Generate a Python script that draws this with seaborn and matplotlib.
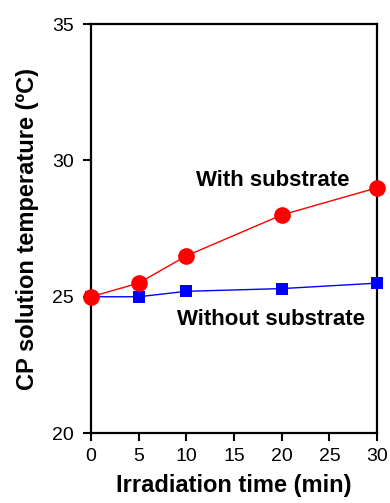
import matplotlib
matplotlib.use("Agg")
import matplotlib.pyplot as plt
import pandas as pd
import seaborn as sns

# Irradiation time (min) and CP solution temperature (deg C)
time_min = [0, 5, 10, 20, 30]
temp_with = [25.0, 25.5, 26.5, 28.0, 29.0]
temp_without = [25.0, 25.0, 25.2, 25.3, 25.5]

sns.set_style("ticks")
plt.rcParams["font.family"] = ["Liberation Sans", "DejaVu Sans"]
plt.rcParams["text.color"] = "black"
plt.rcParams["axes.labelcolor"] = "black"

df = pd.DataFrame({"time": time_min, "with": temp_with, "without": temp_without})

fig = plt.figure(figsize=(3.9, 5.03), dpi=100)
ax = fig.add_axes([0.233, 0.139, 0.734, 0.813])

sns.lineplot(data=df, x="time", y="without", ax=ax, color="#0000ff", marker="s",
             markersize=9, markeredgewidth=0, linewidth=1.0, clip_on=False, zorder=3)
sns.lineplot(data=df, x="time", y="with", ax=ax, color="#ff0000", marker="o",
             markersize=12, markeredgewidth=0, linewidth=1.0, clip_on=False, zorder=4)

ax.set_xlim(0, 30)
ax.set_ylim(20, 35)
ax.set_xticks([0, 5, 10, 15, 20, 25, 30])
ax.set_yticks([20, 25, 30, 35])

for side in ["left", "right", "top", "bottom"]:
    ax.spines[side].set_visible(True)
    ax.spines[side].set_linewidth(1.6)
    ax.spines[side].set_color("black")

ax.tick_params(axis="both", direction="out", length=6, width=1.5, labelsize=14,
               colors="black")
ax.tick_params(axis="y", pad=6)
ax.tick_params(axis="x", pad=5)
ax.tick_params(top=False, right=False)

ax.set_xlabel("Irradiation time (min)", fontsize=17, fontweight="bold", labelpad=6)
ax.set_ylabel("CP solution temperature (ºC)", fontsize=17, fontweight="bold", labelpad=10)

ax.text(19.1, 29.25, "With substrate", fontsize=16, fontweight="bold", ha="center", va="center")
ax.text(18.85, 24.18, "Without substrate", fontsize=16, fontweight="bold", ha="center", va="center")

fig.savefig("out.png", dpi=100)
